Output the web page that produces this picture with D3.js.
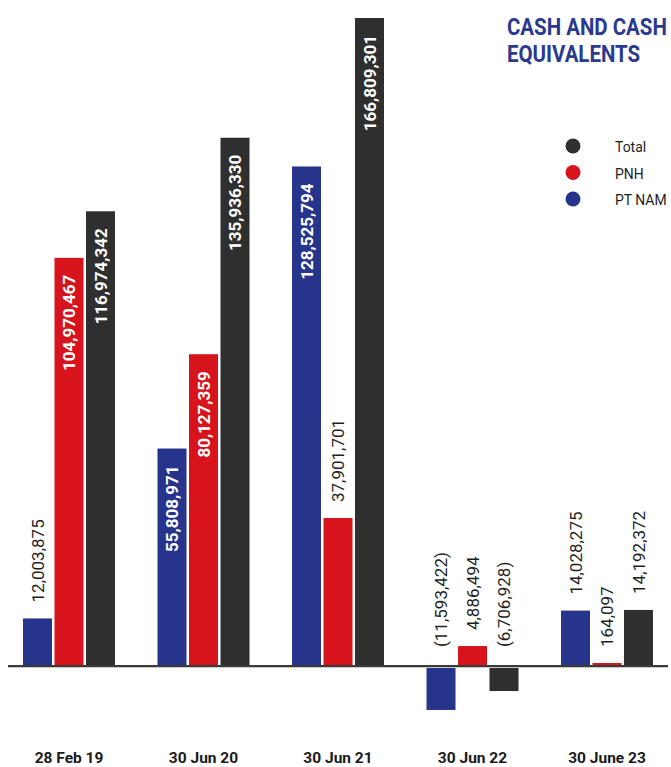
<!DOCTYPE html>
<html>
<head>
<meta charset="utf-8">
<script src="https://cdn.jsdelivr.net/npm/d3@7"></script>
<style>
  html, body { margin: 0; padding: 0; background: #ffffff; }
  svg { display: block; }
</style>
</head>
<body>
<svg id="chart" width="671" height="767"></svg>
<script>
// Cash and cash equivalents by reporting date
const categories = ["28 Feb 19", "30 Jun 20", "30 Jun 21", "30 Jun 22", "30 June 23"];
const seriesNames = ["PT NAM", "PNH", "Total"];
const ptNam = [12003875, 55808971, 128525794, -11593422, 14028275];
const pnh   = [104970467, 80127359, 37901701, 4886494, 164097];
const total = [116974342, 135936330, 166809301, -6706928, 14192372];
const legendOrder = ["Total", "PNH", "PT NAM"];

const colors = { "PT NAM": "#27348b", "PNH": "#d7141b", "Total": "#2f2f2f" };
const seriesValues = { "PT NAM": ptNam, "PNH": pnh, "Total": total };

const fmt = d3.format(",");
const labelText = v => v < 0 ? "(" + fmt(-v) + ")" : fmt(v);

const svg = d3.select("#chart");
const font = "Roboto, 'Noto Sans', sans-serif";

// Scales
const y = d3.scaleLinear().domain([0, 166809301]).range([665, 18]);
const x = d3.scaleBand().domain(categories).range([1.75, 674.25]).padding(0);
const xs = d3.scaleBand().domain(seriesNames).range([-46, 46]).paddingInner(0.079).paddingOuter(0);

const rows = [];
categories.forEach((c, i) => {
  seriesNames.forEach(s => rows.push({ cat: c, series: s, value: seriesValues[s][i] }));
});

const cx = d => x(d.cat) + x.bandwidth() / 2 + xs(d.series) + xs.bandwidth() / 2;
const barH = d => Math.max(Math.abs(y(d.value) - y(0)), 2);

// Bars
svg.append("g").selectAll("rect").data(rows).join("rect")
  .attr("x", d => x(d.cat) + x.bandwidth() / 2 + xs(d.series))
  .attr("width", xs.bandwidth())
  .attr("y", d => d.value >= 0 ? y(0) - barH(d) : y(0))
  .attr("height", barH)
  .attr("fill", d => colors[d.series]);

// Zero line
svg.append("line")
  .attr("x1", 8).attr("x2", 668)
  .attr("y1", y(0) + 2.5).attr("y2", y(0) + 2.5)
  .attr("stroke", "#c8c8c8").attr("stroke-width", 1);
svg.append("line")
  .attr("x1", 8).attr("x2", 668)
  .attr("y1", y(0) + 1).attr("y2", y(0) + 1)
  .attr("stroke", "#3a3a3a").attr("stroke-width", 2);

// Value labels: large bars carry white labels inside, the rest sit above
const inside = d => d.value > 50000000;
svg.append("g").selectAll("text").data(rows).join("text")
  .attr("transform", d => {
    let yy;
    if (inside(d)) yy = y(d.value) + 17;
    else if (d.value >= 0) yy = y(0) - barH(d) - 16;
    else yy = y(0) - 18;
    return `translate(${cx(d)},${yy}) rotate(-90)`;
  })
  .attr("text-anchor", d => inside(d) ? "end" : "start")
  .attr("dy", "0.36em")
  .attr("font-family", font)
  .attr("font-size", 17)
  .attr("font-weight", d => inside(d) ? 700 : 400)
  .attr("fill", d => inside(d) ? "#ffffff" : "#1e1e1e")
  .text(d => labelText(d.value));

// Category labels
svg.append("g").selectAll("text").data(categories).join("text")
  .attr("x", d => x(d) + x.bandwidth() / 2)
  .attr("y", 763)
  .attr("text-anchor", "middle")
  .attr("font-family", font)
  .attr("font-size", 15.5)
  .attr("font-weight", 700)
  .attr("fill", "#1a1a1a")
  .text(d => d);

// Title (condensed horizontally)
const title = svg.append("g").attr("font-family", font).attr("font-weight", 700)
  .attr("font-size", 23.5).attr("fill", "#2a3a8e");
title.append("text").attr("transform", "translate(507,35) scale(0.87,1)").text("CASH AND CASH");
title.append("text").attr("transform", "translate(507,62) scale(0.87,1)").text("EQUIVALENTS");

// Legend
const legend = svg.append("g").selectAll("g").data(legendOrder).join("g")
  .attr("transform", (d, i) => `translate(573,${146 + i * 26.5})`);
legend.append("circle").attr("r", 7.5).attr("fill", d => colors[d]);
legend.append("text")
  .attr("transform", "translate(42,6) scale(0.9,1)")
  .attr("font-family", font).attr("font-size", 15.5)
  .attr("fill", "#1e1e1e")
  .text(d => d);
</script>
</body>
</html>
